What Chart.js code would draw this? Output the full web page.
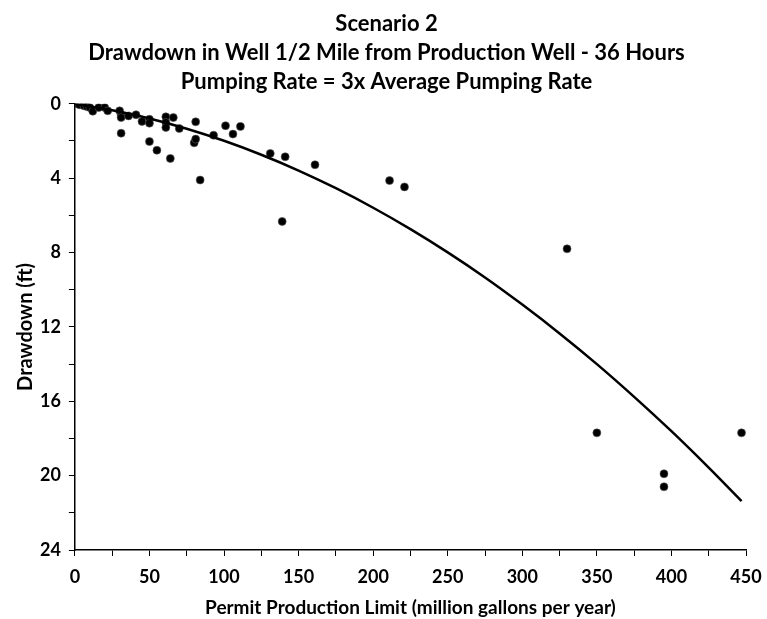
<!DOCTYPE html>
<html>
<head>
<meta charset="utf-8">
<script src="https://cdn.jsdelivr.net/npm/chart.js@4/dist/chart.umd.min.js"></script>
<style>
  body { margin: 0; background: #fff; }
  #wrap { width: 767px; height: 619px; }
</style>
</head>
<body>
<div id="wrap"><canvas id="drawdownChart" width="767" height="619"></canvas></div>
<script>
// observed wells: permit limit (million gal/yr) and drawdown (ft)
const permitLimit = [0, 3, 6, 8, 10, 12, 16, 20, 22, 30, 31, 31, 31, 36, 41, 45, 50, 50, 50, 55,
  61, 61, 61, 64, 66, 70, 80, 81, 81, 84, 93, 101, 106, 111, 131, 139, 141, 161, 211, 221,
  330, 350, 395, 395, 447];
const drawdown = [0, 0.05, 0.1, 0.15, 0.2, 0.4, 0.2, 0.2, 0.38, 0.38, 0.6, 0.74, 1.58, 0.65, 0.59, 0.95, 0.83, 1.04, 2.03, 2.5,
  0.7, 1.0, 1.27, 2.94, 0.74, 1.33, 2.1, 0.97, 1.9, 4.1, 1.69, 1.18, 1.63, 1.22, 2.67, 6.33, 2.85, 3.28, 4.13, 4.47,
  7.8, 17.7, 19.9, 20.6, 17.7];

// trend curve
const trendX = [0, 25, 50, 75, 100, 125, 150, 175, 200, 225, 250, 275, 300, 325, 350, 375, 400, 425, 447];
const trendY = [0, 0.35, 0.79, 1.34, 1.99, 2.74, 3.59, 4.54, 5.59, 6.74, 7.99, 9.34, 10.8, 12.35, 14.0, 15.76, 17.61, 19.57, 21.37];

const titleLines = [
  'Scenario 2',
  'Drawdown in Well 1/2 Mile from Production Well - 36 Hours',
  'Pumping Rate = 3x Average Pumping Rate'
];

const wells = permitLimit.map((x, i) => ({ x: x, y: drawdown[i] }));
const trend = trendX.map((x, i) => ({ x: x, y: trendY[i] }));

const fontFam = 'Lato, "Open Sans", sans-serif';

const ctx = document.getElementById('drawdownChart').getContext('2d');
new Chart(ctx, {
    type: 'scatter',
    data: {
        datasets: [{
            label: 'Wells',
            data: wells,
            backgroundColor: '#000',
            borderColor: 'rgba(90,90,90,0.6)',
            borderWidth: 1,
            pointRadius: 4,
            order: 2
        }, {
            type: 'line',
            label: 'Trend',
            data: trend,
            borderColor: '#000',
            borderWidth: 2.5,
            pointRadius: 0,
            fill: false,
            cubicInterpolationMode: 'monotone',
            order: 1
        }]
    },
    options: {
        responsive: false,
        animation: false,
        layout: { padding: { left: 14, right: 8, top: 10, bottom: 2 } },
        plugins: {
            legend: { display: false },
            tooltip: { enabled: false },
            title: {
                display: true,
                text: titleLines,
                color: '#000',
                font: { family: fontFam, size: 22, weight: 'bold', lineHeight: 1.3 },
                padding: { top: 0, bottom: 8 }
            }
        },
        scales: {
            x: {
                type: 'linear',
                min: 0,
                max: 450,
                // fixed room on the right for the last label
                afterFit: scale => { scale.paddingRight = 21; },
                grid: { display: true, drawOnChartArea: false, color: '#000', tickLength: 6 },
                border: { display: true, color: '#000', width: 1.5 },
                ticks: {
                    stepSize: 25,
                    autoSkip: false,
                    maxRotation: 0,
                    color: '#000',
                    padding: 12,
                    font: { family: fontFam, size: 18, weight: 'bold', lineHeight: 1.0 },
                    callback: v => (v % 50 === 0 ? v : '')
                },
                title: {
                    display: true,
                    text: 'Permit Production Limit (million gallons per year)',
                    color: '#000',
                    font: { family: fontFam, size: 19, weight: 'bold', lineHeight: 1.0 },
                    padding: { top: 0, bottom: 0 }
                }
            },
            y: {
                type: 'linear',
                reverse: true,
                min: 0,
                max: 24,
                afterFit: scale => { scale.width -= 6; },
                grid: { display: true, drawOnChartArea: false, color: '#000', tickLength: 6 },
                border: { display: true, color: '#000', width: 1.5 },
                ticks: {
                    stepSize: 2,
                    autoSkip: false,
                    color: '#000',
                    padding: 8,
                    font: { family: fontFam, size: 18, weight: 'bold' },
                    callback: v => (v % 4 === 0 ? v : '')
                },
                title: {
                    display: true,
                    text: 'Drawdown (ft)',
                    color: '#000',
                    font: { family: fontFam, size: 20, weight: 'bold' },
                    padding: { top: 0, bottom: 0 }
                }
            }
        }
    }
});
</script>
</body>
</html>
